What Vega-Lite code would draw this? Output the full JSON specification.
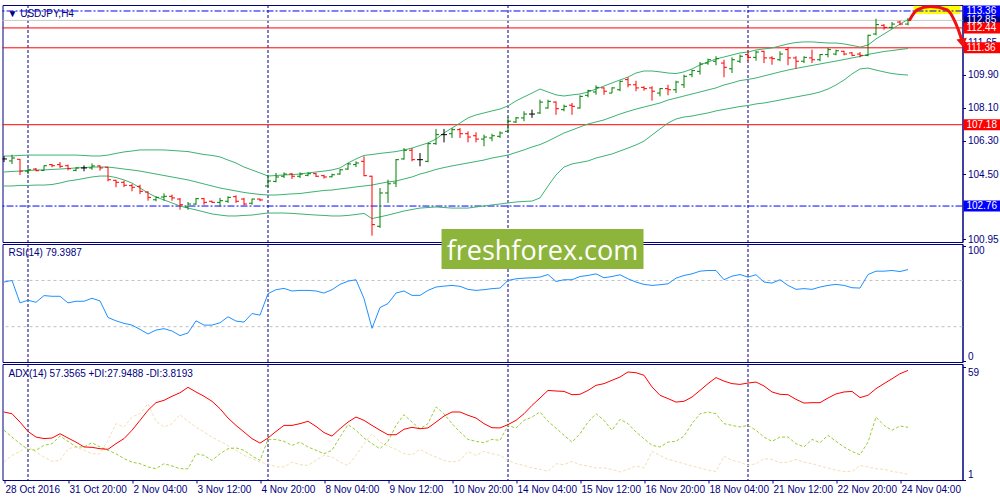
{
"$schema": "https://vega.github.io/schema/vega-lite/v6.json",
"background": "white",
"padding": {"left": 1.5, "top": 0, "right": 0, "bottom": 0},
"spacing": 2,
"bounds": "flush",
"config": {
  "view": {"stroke": "#000080", "strokeWidth": 1},
  "axis": {"grid": false, "domainColor": "#000080", "tickColor": "#000080", "labelColor": "#000080", "labelFont": "Liberation Sans", "labelFontSize": 10},
  "text": {"font": "Liberation Sans"}
},
"datasets": {
  "bars": [
{"i":0,"o":105.32,"h":105.48,"l":105.15,"c":105.32,"bu":105.48,"bm":104.61,"bl":103.85,"rsi":68.6,"adx":35.9,"pdi":26.5,"mdi":10.1},
{"i":1,"o":105.21,"h":105.55,"l":105.04,"c":105.37,"bu":105.48,"bm":104.64,"bl":103.85,"rsi":70.0,"adx":35.0,"pdi":23.0,"mdi":13.6},
{"i":2,"o":105.30,"h":105.32,"l":104.45,"c":104.66,"bu":105.51,"bm":104.66,"bl":103.88,"rsi":50.6,"adx":30.7,"pdi":19.6,"mdi":15.6},
{"i":3,"o":104.66,"h":104.83,"l":104.50,"c":104.73,"bu":105.53,"bm":104.69,"bl":103.88,"rsi":52.9,"adx":25.9,"pdi":16.7,"mdi":17.9},
{"i":4,"o":104.77,"h":104.83,"l":104.65,"c":104.68,"bu":105.53,"bm":104.72,"bl":103.90,"rsi":51.1,"adx":23.0,"pdi":16.2,"mdi":15.3},
{"i":5,"o":104.70,"h":104.97,"l":104.68,"c":104.95,"bu":105.53,"bm":104.72,"bl":103.90,"rsi":56.9,"adx":22.2,"pdi":18.7,"mdi":12.7},
{"i":6,"o":105.01,"h":105.05,"l":104.87,"c":104.95,"bu":105.53,"bm":104.75,"bl":103.93,"rsi":56.3,"adx":22.5,"pdi":19.6,"mdi":10.5},
{"i":7,"o":105.01,"h":105.15,"l":104.83,"c":104.92,"bu":105.53,"bm":104.77,"bl":104.01,"rsi":56.3,"adx":24.7,"pdi":23.5,"mdi":11.0},
{"i":8,"o":104.95,"h":105.01,"l":104.70,"c":104.79,"bu":105.53,"bm":104.80,"bl":104.12,"rsi":50.6,"adx":22.5,"pdi":20.8,"mdi":17.0},
{"i":9,"o":104.70,"h":104.87,"l":104.65,"c":104.83,"bu":105.53,"bm":104.83,"bl":104.18,"rsi":52.0,"adx":20.4,"pdi":17.9,"mdi":17.9},
{"i":10,"o":104.83,"h":104.97,"l":104.65,"c":104.83,"bu":105.51,"bm":104.85,"bl":104.26,"rsi":52.0,"adx":17.9,"pdi":17.9,"mdi":16.2},
{"i":11,"o":104.83,"h":105.08,"l":104.73,"c":104.94,"bu":105.48,"bm":104.88,"bl":104.34,"rsi":54.6,"adx":17.7,"pdi":20.1,"mdi":14.4},
{"i":12,"o":104.94,"h":104.97,"l":104.68,"c":104.83,"bu":105.48,"bm":104.88,"bl":104.39,"rsi":52.3,"adx":17.0,"pdi":17.9,"mdi":14.4},
{"i":13,"o":104.87,"h":104.88,"l":104.10,"c":104.19,"bu":105.53,"bm":104.88,"bl":104.39,"rsi":38.0,"adx":16.7,"pdi":16.2,"mdi":21.3},
{"i":14,"o":104.16,"h":104.19,"l":103.78,"c":104.05,"bu":105.62,"bm":104.83,"bl":104.31,"rsi":35.1,"adx":19.6,"pdi":14.4,"mdi":29.9},
{"i":15,"o":104.05,"h":104.14,"l":103.79,"c":103.89,"bu":105.70,"bm":104.77,"bl":104.18,"rsi":32.9,"adx":22.2,"pdi":11.9,"mdi":28.2},
{"i":16,"o":103.87,"h":103.96,"l":103.56,"c":103.78,"bu":105.75,"bm":104.72,"bl":104.01,"rsi":31.4,"adx":26.5,"pdi":10.1,"mdi":33.3},
{"i":17,"o":103.83,"h":103.92,"l":103.41,"c":103.56,"bu":105.81,"bm":104.66,"bl":103.74,"rsi":27.7,"adx":31.6,"pdi":9.3,"mdi":35.0},
{"i":18,"o":103.52,"h":103.56,"l":103.05,"c":103.23,"bu":105.81,"bm":104.58,"bl":103.47,"rsi":23.7,"adx":36.8,"pdi":7.6,"mdi":40.2},
{"i":19,"o":103.10,"h":103.29,"l":103.02,"c":103.23,"bu":105.81,"bm":104.50,"bl":103.25,"rsi":27.1,"adx":40.7,"pdi":6.7,"mdi":31.1},
{"i":20,"o":103.25,"h":103.45,"l":103.05,"c":103.29,"bu":105.81,"bm":104.42,"bl":103.09,"rsi":28.3,"adx":41.9,"pdi":9.3,"mdi":28.2},
{"i":21,"o":103.29,"h":103.38,"l":103.05,"c":103.20,"bu":105.78,"bm":104.34,"bl":102.93,"rsi":26.3,"adx":44.0,"pdi":8.1,"mdi":29.9},
{"i":22,"o":103.14,"h":103.20,"l":102.56,"c":102.83,"bu":105.75,"bm":104.26,"bl":102.76,"rsi":22.3,"adx":45.8,"pdi":6.7,"mdi":34.5},
{"i":23,"o":102.71,"h":102.98,"l":102.56,"c":102.87,"bu":105.72,"bm":104.18,"bl":102.65,"rsi":24.6,"adx":48.6,"pdi":6.7,"mdi":31.1},
{"i":24,"o":102.87,"h":103.20,"l":102.83,"c":103.16,"bu":105.64,"bm":104.07,"bl":102.55,"rsi":35.1,"adx":46.2,"pdi":14.4,"mdi":28.2},
{"i":25,"o":103.16,"h":103.20,"l":102.83,"c":102.96,"bu":105.56,"bm":103.96,"bl":102.44,"rsi":31.4,"adx":44.0,"pdi":13.6,"mdi":25.6},
{"i":26,"o":103.02,"h":103.05,"l":102.93,"c":102.96,"bu":105.51,"bm":103.85,"bl":102.33,"rsi":31.4,"adx":41.4,"pdi":11.0,"mdi":23.0},
{"i":27,"o":102.96,"h":103.20,"l":102.75,"c":103.05,"bu":105.43,"bm":103.74,"bl":102.27,"rsi":33.4,"adx":37.6,"pdi":14.4,"mdi":20.8},
{"i":28,"o":103.02,"h":103.29,"l":102.93,"c":103.23,"bu":105.26,"bm":103.66,"bl":102.22,"rsi":38.6,"adx":32.8,"pdi":17.0,"mdi":18.7},
{"i":29,"o":103.27,"h":103.34,"l":102.93,"c":103.02,"bu":105.10,"bm":103.58,"bl":102.22,"rsi":34.9,"adx":29.0,"pdi":17.4,"mdi":16.2},
{"i":30,"o":103.14,"h":103.20,"l":102.80,"c":102.87,"bu":104.88,"bm":103.50,"bl":102.25,"rsi":34.0,"adx":25.6,"pdi":16.2,"mdi":13.6},
{"i":31,"o":102.91,"h":103.16,"l":102.83,"c":103.14,"bu":104.72,"bm":103.44,"bl":102.27,"rsi":41.4,"adx":22.2,"pdi":13.2,"mdi":11.9},
{"i":32,"o":103.14,"h":103.16,"l":103.02,"c":103.09,"bu":104.56,"bm":103.39,"bl":102.33,"rsi":40.0,"adx":19.9,"pdi":11.0,"mdi":10.1},
{"i":33,"o":103.85,"h":104.46,"l":103.79,"c":104.12,"bu":104.39,"bm":103.36,"bl":102.38,"rsi":58.6,"adx":22.5,"pdi":21.8,"mdi":9.3},
{"i":34,"o":104.10,"h":104.56,"l":104.05,"c":104.34,"bu":104.42,"bm":103.36,"bl":102.38,"rsi":62.0,"adx":25.9,"pdi":21.8,"mdi":7.6},
{"i":35,"o":104.38,"h":104.59,"l":104.28,"c":104.50,"bu":104.45,"bm":103.39,"bl":102.38,"rsi":63.1,"adx":29.0,"pdi":20.8,"mdi":7.6},
{"i":36,"o":104.50,"h":104.56,"l":104.23,"c":104.38,"bu":104.47,"bm":103.42,"bl":102.36,"rsi":60.9,"adx":29.0,"pdi":18.7,"mdi":10.1},
{"i":37,"o":104.38,"h":104.59,"l":104.28,"c":104.50,"bu":104.50,"bm":103.44,"bl":102.33,"rsi":61.4,"adx":29.9,"pdi":20.4,"mdi":8.8},
{"i":38,"o":104.43,"h":104.59,"l":104.38,"c":104.52,"bu":104.56,"bm":103.50,"bl":102.30,"rsi":61.4,"adx":31.1,"pdi":17.9,"mdi":8.4},
{"i":39,"o":104.52,"h":104.56,"l":104.34,"c":104.38,"bu":104.61,"bm":103.55,"bl":102.27,"rsi":60.9,"adx":28.5,"pdi":16.2,"mdi":11.0},
{"i":40,"o":104.41,"h":104.46,"l":104.25,"c":104.34,"bu":104.66,"bm":103.61,"bl":102.25,"rsi":59.1,"adx":25.3,"pdi":14.4,"mdi":13.6},
{"i":41,"o":104.35,"h":104.52,"l":104.32,"c":104.46,"bu":104.72,"bm":103.63,"bl":102.22,"rsi":62.0,"adx":23.5,"pdi":16.2,"mdi":12.7},
{"i":42,"o":104.50,"h":104.77,"l":104.46,"c":104.73,"bu":104.83,"bm":103.69,"bl":102.22,"rsi":66.6,"adx":27.3,"pdi":23.0,"mdi":10.1},
{"i":43,"o":104.77,"h":105.10,"l":104.73,"c":105.05,"bu":105.10,"bm":103.74,"bl":102.25,"rsi":69.4,"adx":30.7,"pdi":29.4,"mdi":8.4},
{"i":44,"o":105.01,"h":105.19,"l":104.88,"c":105.10,"bu":105.32,"bm":103.80,"bl":102.30,"rsi":70.6,"adx":33.3,"pdi":26.5,"mdi":13.6},
{"i":45,"o":105.19,"h":105.46,"l":104.38,"c":104.41,"bu":105.51,"bm":103.85,"bl":102.36,"rsi":54.3,"adx":31.6,"pdi":22.5,"mdi":19.6},
{"i":46,"o":104.38,"h":104.41,"l":101.15,"c":101.75,"bu":105.56,"bm":103.90,"bl":102.08,"rsi":28.6,"adx":29.0,"pdi":19.6,"mdi":24.7},
{"i":47,"o":101.66,"h":103.74,"l":101.57,"c":103.47,"bu":105.62,"bm":103.99,"bl":102.17,"rsi":46.6,"adx":26.5,"pdi":17.0,"mdi":20.4},
{"i":48,"o":103.47,"h":104.19,"l":102.93,"c":103.97,"bu":105.67,"bm":104.07,"bl":102.27,"rsi":50.0,"adx":24.2,"pdi":20.8,"mdi":18.4},
{"i":49,"o":104.01,"h":105.32,"l":103.79,"c":105.28,"bu":105.72,"bm":104.12,"bl":102.38,"rsi":59.1,"adx":24.2,"pdi":29.0,"mdi":16.7},
{"i":50,"o":105.32,"h":105.91,"l":105.28,"c":105.79,"bu":105.81,"bm":104.23,"bl":102.49,"rsi":60.9,"adx":27.0,"pdi":34.5,"mdi":14.4},
{"i":51,"o":105.79,"h":105.91,"l":105.19,"c":105.28,"bu":105.91,"bm":104.34,"bl":102.57,"rsi":57.1,"adx":28.0,"pdi":30.7,"mdi":13.9},
{"i":52,"o":105.28,"h":105.64,"l":104.92,"c":105.28,"bu":106.05,"bm":104.50,"bl":102.65,"rsi":57.1,"adx":27.3,"pdi":27.3,"mdi":16.7},
{"i":53,"o":105.19,"h":106.19,"l":105.14,"c":106.15,"bu":106.19,"bm":104.61,"bl":102.68,"rsi":61.4,"adx":27.7,"pdi":29.9,"mdi":14.4},
{"i":54,"o":106.15,"h":106.95,"l":106.09,"c":106.64,"bu":106.40,"bm":104.75,"bl":102.71,"rsi":64.3,"adx":30.7,"pdi":38.5,"mdi":12.7},
{"i":55,"o":106.64,"h":106.95,"l":106.22,"c":106.64,"bu":106.73,"bm":104.85,"bl":102.68,"rsi":65.1,"adx":33.8,"pdi":35.0,"mdi":11.0},
{"i":56,"o":106.69,"h":107.00,"l":106.46,"c":106.91,"bu":107.00,"bm":104.94,"bl":102.65,"rsi":65.7,"adx":35.9,"pdi":29.9,"mdi":10.1},
{"i":57,"o":106.91,"h":107.00,"l":106.46,"c":106.69,"bu":107.27,"bm":105.02,"bl":102.65,"rsi":64.9,"adx":35.9,"pdi":25.6,"mdi":11.0},
{"i":58,"o":106.69,"h":106.82,"l":106.22,"c":106.51,"bu":107.55,"bm":105.10,"bl":102.65,"rsi":62.3,"adx":34.2,"pdi":21.8,"mdi":15.6},
{"i":59,"o":106.58,"h":106.77,"l":106.22,"c":106.40,"bu":107.71,"bm":105.18,"bl":102.71,"rsi":61.4,"adx":32.8,"pdi":20.8,"mdi":13.6},
{"i":60,"o":106.40,"h":106.64,"l":106.01,"c":106.51,"bu":107.82,"bm":105.26,"bl":102.76,"rsi":62.0,"adx":29.9,"pdi":20.1,"mdi":15.6},
{"i":61,"o":106.46,"h":106.69,"l":106.28,"c":106.58,"bu":107.93,"bm":105.37,"bl":102.82,"rsi":62.9,"adx":27.8,"pdi":21.8,"mdi":14.4},
{"i":62,"o":106.55,"h":106.82,"l":106.46,"c":106.73,"bu":108.03,"bm":105.45,"bl":102.87,"rsi":63.4,"adx":27.7,"pdi":21.3,"mdi":13.6},
{"i":63,"o":106.82,"h":107.60,"l":106.77,"c":107.37,"bu":108.20,"bm":105.53,"bl":102.93,"rsi":70.0,"adx":29.4,"pdi":29.0,"mdi":11.0},
{"i":64,"o":107.33,"h":107.60,"l":107.27,"c":107.55,"bu":108.47,"bm":105.67,"bl":102.98,"rsi":71.4,"adx":31.6,"pdi":27.6,"mdi":9.3},
{"i":65,"o":107.55,"h":107.91,"l":107.37,"c":107.76,"bu":108.69,"bm":105.81,"bl":103.01,"rsi":72.0,"adx":35.0,"pdi":31.6,"mdi":8.4},
{"i":66,"o":107.76,"h":108.00,"l":107.55,"c":107.76,"bu":108.90,"bm":105.97,"bl":103.03,"rsi":72.3,"adx":39.3,"pdi":33.3,"mdi":7.1},
{"i":67,"o":107.82,"h":108.54,"l":107.76,"c":108.41,"bu":109.12,"bm":106.10,"bl":103.20,"rsi":72.9,"adx":43.1,"pdi":35.9,"mdi":6.4},
{"i":68,"o":108.09,"h":108.54,"l":108.05,"c":108.45,"bu":108.96,"bm":106.29,"bl":103.85,"rsi":75.1,"adx":47.0,"pdi":31.1,"mdi":5.3},
{"i":69,"o":108.41,"h":108.45,"l":107.72,"c":108.05,"bu":108.80,"bm":106.51,"bl":104.45,"rsi":69.1,"adx":46.7,"pdi":27.6,"mdi":9.3},
{"i":70,"o":108.00,"h":108.27,"l":107.91,"c":108.18,"bu":108.74,"bm":106.73,"bl":104.88,"rsi":70.6,"adx":46.5,"pdi":23.9,"mdi":8.8},
{"i":71,"o":108.24,"h":108.36,"l":107.72,"c":108.18,"bu":108.80,"bm":106.89,"bl":105.05,"rsi":70.6,"adx":44.8,"pdi":20.4,"mdi":10.5},
{"i":72,"o":108.09,"h":108.78,"l":108.05,"c":108.72,"bu":108.85,"bm":107.06,"bl":105.13,"rsi":73.4,"adx":45.0,"pdi":24.7,"mdi":8.8},
{"i":73,"o":108.78,"h":109.08,"l":108.67,"c":109.03,"bu":108.96,"bm":107.22,"bl":105.21,"rsi":74.3,"adx":47.0,"pdi":30.7,"mdi":8.1},
{"i":74,"o":108.96,"h":109.32,"l":108.81,"c":109.21,"bu":109.12,"bm":107.33,"bl":105.37,"rsi":75.7,"adx":49.6,"pdi":35.0,"mdi":7.1},
{"i":75,"o":109.18,"h":109.21,"l":108.81,"c":109.00,"bu":109.28,"bm":107.44,"bl":105.48,"rsi":72.3,"adx":50.5,"pdi":31.6,"mdi":7.1},
{"i":76,"o":108.90,"h":109.21,"l":108.90,"c":109.18,"bu":109.45,"bm":107.60,"bl":105.59,"rsi":73.4,"adx":52.2,"pdi":26.5,"mdi":6.4},
{"i":77,"o":109.08,"h":109.57,"l":109.00,"c":109.54,"bu":109.61,"bm":107.76,"bl":105.75,"rsi":74.9,"adx":53.9,"pdi":32.1,"mdi":5.0},
{"i":78,"o":109.63,"h":109.76,"l":109.21,"c":109.35,"bu":109.77,"bm":107.90,"bl":105.91,"rsi":71.4,"adx":56.5,"pdi":29.9,"mdi":6.4},
{"i":79,"o":109.35,"h":109.57,"l":109.00,"c":109.18,"bu":109.99,"bm":108.03,"bl":106.08,"rsi":68.6,"adx":56.1,"pdi":25.6,"mdi":8.1},
{"i":80,"o":109.21,"h":109.27,"l":109.03,"c":109.14,"bu":110.10,"bm":108.14,"bl":106.29,"rsi":66.6,"adx":54.8,"pdi":22.2,"mdi":7.1},
{"i":81,"o":109.18,"h":109.27,"l":108.49,"c":109.00,"bu":110.10,"bm":108.25,"bl":106.62,"rsi":65.7,"adx":48.8,"pdi":18.7,"mdi":15.6},
{"i":82,"o":108.90,"h":109.18,"l":108.72,"c":109.14,"bu":110.05,"bm":108.36,"bl":106.95,"rsi":66.3,"adx":44.5,"pdi":17.9,"mdi":13.6},
{"i":83,"o":109.14,"h":109.35,"l":108.78,"c":109.08,"bu":109.99,"bm":108.52,"bl":107.27,"rsi":67.1,"adx":42.8,"pdi":20.4,"mdi":11.5},
{"i":84,"o":109.08,"h":109.57,"l":108.90,"c":109.50,"bu":109.96,"bm":108.63,"bl":107.49,"rsi":72.0,"adx":41.0,"pdi":20.8,"mdi":10.5},
{"i":85,"o":109.35,"h":109.90,"l":109.18,"c":109.81,"bu":110.05,"bm":108.74,"bl":107.60,"rsi":74.3,"adx":41.4,"pdi":23.5,"mdi":9.3},
{"i":86,"o":109.90,"h":110.17,"l":109.76,"c":110.12,"bu":110.21,"bm":108.85,"bl":107.65,"rsi":75.7,"adx":43.6,"pdi":29.9,"mdi":8.1},
{"i":87,"o":110.08,"h":110.59,"l":109.90,"c":110.48,"bu":110.43,"bm":108.96,"bl":107.74,"rsi":78.0,"adx":47.0,"pdi":35.0,"mdi":7.1},
{"i":88,"o":110.53,"h":110.77,"l":110.44,"c":110.71,"bu":110.59,"bm":109.07,"bl":107.82,"rsi":78.6,"adx":50.5,"pdi":35.9,"mdi":5.9},
{"i":89,"o":110.63,"h":110.90,"l":110.41,"c":110.77,"bu":110.75,"bm":109.18,"bl":107.93,"rsi":78.6,"adx":53.6,"pdi":35.0,"mdi":5.3},
{"i":90,"o":110.53,"h":110.71,"l":109.76,"c":110.30,"bu":110.86,"bm":109.34,"bl":108.01,"rsi":70.6,"adx":51.8,"pdi":29.9,"mdi":13.2},
{"i":91,"o":110.22,"h":110.84,"l":109.99,"c":110.71,"bu":110.97,"bm":109.45,"bl":108.09,"rsi":73.7,"adx":50.5,"pdi":29.0,"mdi":11.0},
{"i":92,"o":110.63,"h":110.99,"l":110.53,"c":110.90,"bu":111.08,"bm":109.58,"bl":108.17,"rsi":75.1,"adx":50.1,"pdi":28.2,"mdi":10.1},
{"i":93,"o":110.99,"h":111.20,"l":110.63,"c":110.84,"bu":111.13,"bm":109.64,"bl":108.22,"rsi":72.9,"adx":50.8,"pdi":29.0,"mdi":8.4},
{"i":94,"o":110.84,"h":111.20,"l":110.66,"c":111.13,"bu":111.24,"bm":109.72,"bl":108.31,"rsi":74.9,"adx":51.3,"pdi":26.5,"mdi":9.3},
{"i":95,"o":111.17,"h":111.20,"l":110.53,"c":110.81,"bu":111.30,"bm":109.83,"bl":108.36,"rsi":68.6,"adx":49.3,"pdi":23.0,"mdi":11.9},
{"i":96,"o":110.81,"h":110.90,"l":110.44,"c":110.77,"bu":111.35,"bm":109.94,"bl":108.44,"rsi":67.7,"adx":46.2,"pdi":20.8,"mdi":11.4},
{"i":97,"o":110.71,"h":111.17,"l":110.63,"c":111.02,"bu":111.46,"bm":110.05,"bl":108.52,"rsi":70.6,"adx":45.0,"pdi":23.0,"mdi":9.8},
{"i":98,"o":111.26,"h":111.39,"l":110.41,"c":110.81,"bu":111.57,"bm":110.15,"bl":108.61,"rsi":65.7,"adx":44.8,"pdi":23.0,"mdi":10.1},
{"i":99,"o":110.81,"h":110.90,"l":110.22,"c":110.63,"bu":111.65,"bm":110.24,"bl":108.69,"rsi":62.3,"adx":42.4,"pdi":19.6,"mdi":11.5},
{"i":100,"o":110.63,"h":110.90,"l":110.53,"c":110.84,"bu":111.68,"bm":110.32,"bl":108.77,"rsi":62.9,"adx":40.5,"pdi":17.9,"mdi":10.1},
{"i":101,"o":110.81,"h":111.26,"l":110.53,"c":110.71,"bu":111.68,"bm":110.40,"bl":108.85,"rsi":62.3,"adx":40.7,"pdi":21.8,"mdi":9.3},
{"i":102,"o":110.71,"h":111.02,"l":110.63,"c":110.99,"bu":111.65,"bm":110.48,"bl":108.96,"rsi":64.3,"adx":40.7,"pdi":20.1,"mdi":8.1},
{"i":103,"o":110.99,"h":111.35,"l":110.84,"c":111.26,"bu":111.62,"bm":110.56,"bl":109.12,"rsi":65.7,"adx":43.1,"pdi":23.9,"mdi":7.1},
{"i":104,"o":111.02,"h":111.26,"l":110.95,"c":111.20,"bu":111.62,"bm":110.64,"bl":109.34,"rsi":66.6,"adx":45.2,"pdi":20.8,"mdi":5.9},
{"i":105,"o":111.17,"h":111.20,"l":110.95,"c":111.02,"bu":111.57,"bm":110.72,"bl":109.61,"rsi":65.7,"adx":46.2,"pdi":17.9,"mdi":5.3},
{"i":106,"o":111.08,"h":111.13,"l":110.90,"c":110.95,"bu":111.49,"bm":110.81,"bl":109.94,"rsi":63.7,"adx":46.5,"pdi":15.6,"mdi":5.3},
{"i":107,"o":111.02,"h":111.13,"l":110.84,"c":110.95,"bu":111.40,"bm":110.89,"bl":110.21,"rsi":63.4,"adx":43.3,"pdi":13.9,"mdi":8.4},
{"i":108,"o":110.95,"h":112.07,"l":110.90,"c":112.04,"bu":111.51,"bm":111.00,"bl":110.26,"rsi":75.1,"adx":44.5,"pdi":20.4,"mdi":7.6},
{"i":109,"o":112.11,"h":112.94,"l":112.04,"c":112.62,"bu":111.84,"bm":111.08,"bl":110.15,"rsi":78.0,"adx":47.9,"pdi":33.3,"mdi":6.7},
{"i":110,"o":112.58,"h":112.65,"l":112.34,"c":112.47,"bu":112.11,"bm":111.16,"bl":110.05,"rsi":78.0,"adx":50.5,"pdi":29.0,"mdi":6.4},
{"i":111,"o":112.47,"h":112.76,"l":112.40,"c":112.65,"bu":112.38,"bm":111.21,"bl":109.96,"rsi":78.6,"adx":53.0,"pdi":26.5,"mdi":5.3},
{"i":112,"o":112.76,"h":112.83,"l":112.58,"c":112.65,"bu":112.65,"bm":111.27,"bl":109.91,"rsi":77.7,"adx":55.6,"pdi":28.7,"mdi":4.7},
{"i":113,"o":112.65,"h":112.98,"l":112.58,"c":112.85,"bu":112.90,"bm":111.32,"bl":109.88,"rsi":79.4,"adx":57.3,"pdi":28.0,"mdi":3.8}
  ],
  "seps": [{"i": 3}, {"i": 33}, {"i": 63}, {"i": 93}],
  "levels": [
    {"p": 112.85, "k": "bid"},
    {"p": 113.36, "k": "blue"},
    {"p": 112.44, "k": "red"},
    {"p": 111.36, "k": "red"},
    {"p": 107.18, "k": "red"},
    {"p": 102.76, "k": "blue"}
  ],
  "rsilev": [{"v": 70}, {"v": 30}],
  "arrow": [
    {"x": 113.22, "p": 112.89},
    {"x": 114.15, "p": 113.42},
    {"x": 115.81, "p": 113.6},
    {"x": 117.9, "p": 113.42},
    {"x": 118.94, "p": 112.71},
    {"x": 119.56, "p": 112.0},
    {"x": 119.75, "p": 111.72}
  ],
  "zone": [{"x0": 113.69, "x1": 119.56, "p0": 113.65, "p1": 113.2}],
  "one": [{}]
},
"vconcat": [
{
  "width": 960, "height": 237,
  "layer": [
    {"data": {"name": "zone"}, "mark": {"type": "rect", "color": "#ffff00"},
     "encoding": {
       "x": {"field": "x0", "type": "quantitative", "scale": {"domain": [-0.1875, 119.8125], "nice": false, "zero": false}, "axis": null},
       "x2": {"field": "x1"},
       "y": {"field": "p0", "type": "quantitative", "scale": {"domain": [100.806, 113.686], "nice": false, "zero": false}, "axis": {"title": null}},
       "y2": {"field": "p1"}}},
    {"data": {"name": "seps"}, "mark": {"type": "rule", "color": "#000080", "strokeDash": [3, 2], "strokeWidth": 1},
     "encoding": {"x": {"field": "i", "type": "quantitative", "scale": {"domain": [-0.1875, 119.8125], "nice": false, "zero": false}, "axis": null}}},
    {"data": {"name": "levels"}, "transform": [{"filter": "datum.k == 'bid'"}], "mark": {"type": "rule", "color": "#c8c8c8", "strokeWidth": 1},
     "encoding": {"y": {"field": "p", "type": "quantitative", "scale": {"domain": [100.806, 113.686], "nice": false, "zero": false}, "axis": {"title": null}}}},
    {"data": {"name": "levels"}, "transform": [{"filter": "datum.k == 'blue'"}], "mark": {"type": "rule", "color": "#0000ff", "strokeWidth": 1, "strokeDash": [7, 2, 2, 2]},
     "encoding": {"y": {"field": "p", "type": "quantitative", "scale": {"domain": [100.806, 113.686], "nice": false, "zero": false}, "axis": {"title": null}}}},
    {"data": {"name": "levels"}, "transform": [{"filter": "datum.k == 'red'"}], "mark": {"type": "rule", "color": "#ff0000", "strokeWidth": 1},
     "encoding": {"y": {"field": "p", "type": "quantitative", "scale": {"domain": [100.806, 113.686], "nice": false, "zero": false}, "axis": {"title": null}}}},
    {"data": {"name": "bars"}, "mark": {"type": "line", "color": "#3cb371", "strokeWidth": 1},
     "encoding": {
       "x": {"field": "i", "type": "quantitative", "scale": {"domain": [-0.1875, 119.8125], "nice": false, "zero": false}, "axis": null},
       "y": {"field": "bu", "type": "quantitative", "scale": {"domain": [100.806, 113.686], "nice": false, "zero": false},
             "axis": {"orient": "right", "title": null, "values": [100.95, 104.5, 106.3, 108.1, 109.9, 111.65], "format": ".2f", "tickSize": 3, "labelPadding": 2, "labelFlush": false, "labelOverlap": false}}}},
    {"data": {"name": "bars"}, "mark": {"type": "line", "color": "#3cb371", "strokeWidth": 1},
     "encoding": {
       "x": {"field": "i", "type": "quantitative", "scale": {"domain": [-0.1875, 119.8125], "nice": false, "zero": false}, "axis": null},
       "y": {"field": "bm", "type": "quantitative", "scale": {"domain": [100.806, 113.686], "nice": false, "zero": false}, "axis": {"title": null}}}},
    {"data": {"name": "bars"}, "mark": {"type": "line", "color": "#3cb371", "strokeWidth": 1},
     "encoding": {
       "x": {"field": "i", "type": "quantitative", "scale": {"domain": [-0.1875, 119.8125], "nice": false, "zero": false}, "axis": null},
       "y": {"field": "bl", "type": "quantitative", "scale": {"domain": [100.806, 113.686], "nice": false, "zero": false}, "axis": {"title": null}}}},
    {"data": {"name": "bars"}, "mark": {"type": "rule", "strokeWidth": 1, "clip": true},
     "encoding": {
       "x": {"field": "i", "type": "quantitative", "scale": {"domain": [-0.1875, 119.8125], "nice": false, "zero": false}, "axis": null},
       "y": {"field": "l", "type": "quantitative", "scale": {"domain": [100.806, 113.686], "nice": false, "zero": false}, "axis": {"title": null}},
       "y2": {"field": "h"},
       "color": {"condition": [{"test": "datum.c > datum.o", "value": "#008000"}, {"test": "datum.c < datum.o", "value": "#ff0000"}], "value": "#000000"}}},
    {"data": {"name": "bars"}, "mark": {"type": "rule", "strokeWidth": 1, "xOffset": -3, "x2Offset": 0, "clip": true},
     "encoding": {
       "x": {"field": "i", "type": "quantitative", "scale": {"domain": [-0.1875, 119.8125], "nice": false, "zero": false}, "axis": null},
       "x2": {"field": "i"},
       "y": {"field": "o", "type": "quantitative", "scale": {"domain": [100.806, 113.686], "nice": false, "zero": false}, "axis": {"title": null}},
       "color": {"condition": [{"test": "datum.c > datum.o", "value": "#008000"}, {"test": "datum.c < datum.o", "value": "#ff0000"}], "value": "#000000"}}},
    {"data": {"name": "bars"}, "mark": {"type": "rule", "strokeWidth": 1, "xOffset": 0, "x2Offset": 3, "clip": true},
     "encoding": {
       "x": {"field": "i", "type": "quantitative", "scale": {"domain": [-0.1875, 119.8125], "nice": false, "zero": false}, "axis": null},
       "x2": {"field": "i"},
       "y": {"field": "c", "type": "quantitative", "scale": {"domain": [100.806, 113.686], "nice": false, "zero": false}, "axis": {"title": null}},
       "color": {"condition": [{"test": "datum.c > datum.o", "value": "#008000"}, {"test": "datum.c < datum.o", "value": "#ff0000"}], "value": "#000000"}}},
    {"data": {"name": "one"}, "mark": {"type": "text", "text": "▼  USDJPY,H4", "align": "left", "baseline": "middle", "fontSize": 10, "color": "#000080"},
     "encoding": {
       "x": {"datum": 0.44, "type": "quantitative", "scale": {"domain": [-0.1875, 119.8125], "nice": false, "zero": false}, "axis": null},
       "y": {"datum": 113.2, "type": "quantitative", "scale": {"domain": [100.806, 113.686], "nice": false, "zero": false}, "axis": {"title": null}}}},
    {"data": {"name": "levels"}, "mark": {"type": "rect", "yOffset": -5.5, "y2Offset": 5.5},
     "encoding": {
       "x": {"datum": 119.94, "type": "quantitative", "scale": {"domain": [-0.1875, 119.8125], "nice": false, "zero": false}, "axis": null},
       "x2": {"datum": 125},
       "y": {"field": "p", "type": "quantitative", "scale": {"domain": [100.806, 113.686], "nice": false, "zero": false}, "axis": {"title": null}},
       "y2": {"field": "p"},
       "color": {"condition": [{"test": "datum.k == 'bid'", "value": "#000080"}, {"test": "datum.k == 'red'", "value": "#ff0000"}], "value": "#0000ff"}}},
    {"data": {"name": "levels"}, "mark": {"type": "text", "align": "left", "baseline": "middle", "fontSize": 10, "color": "#ffffff"},
     "encoding": {
       "x": {"datum": 120.3, "type": "quantitative", "scale": {"domain": [-0.1875, 119.8125], "nice": false, "zero": false}, "axis": null},
       "y": {"field": "p", "type": "quantitative", "scale": {"domain": [100.806, 113.686], "nice": false, "zero": false}, "axis": {"title": null}},
       "text": {"field": "p", "type": "quantitative", "format": ".2f"}}},
    {"data": {"name": "arrow"}, "mark": {"type": "line", "color": "#ee1111", "strokeWidth": 3, "interpolate": "monotone", "strokeCap": "round"},
     "encoding": {
       "x": {"field": "x", "type": "quantitative", "scale": {"domain": [-0.1875, 119.8125], "nice": false, "zero": false}, "axis": null},
       "y": {"field": "p", "type": "quantitative", "scale": {"domain": [100.806, 113.686], "nice": false, "zero": false}, "axis": {"title": null}}}},
    {"data": {"name": "one"}, "mark": {"type": "point", "shape": "triangle-down", "filled": true, "color": "#ee1111", "size": 110, "opacity": 1, "angle": -10},
     "encoding": {
       "x": {"datum": 119.8, "type": "quantitative", "scale": {"domain": [-0.1875, 119.8125], "nice": false, "zero": false}, "axis": null},
       "y": {"datum": 111.62, "type": "quantitative", "scale": {"domain": [100.806, 113.686], "nice": false, "zero": false}, "axis": {"title": null}}}}
  ]
},
{
  "width": 960, "height": 118,
  "layer": [
    {"data": {"name": "seps"}, "mark": {"type": "rule", "color": "#000080", "strokeDash": [3, 2], "strokeWidth": 1},
     "encoding": {"x": {"field": "i", "type": "quantitative", "scale": {"domain": [-0.1875, 119.8125], "nice": false, "zero": false}, "axis": null}}},
    {"data": {"name": "rsilev"}, "mark": {"type": "rule", "color": "#c0c0c0", "strokeDash": [3, 3], "strokeWidth": 1},
     "encoding": {"y": {"field": "v", "type": "quantitative", "scale": {"domain": [-0.5, 101.5], "nice": false, "zero": false}, "axis": {"title": null}}}},
    {"data": {"name": "bars"}, "mark": {"type": "line", "color": "#1e90ff", "strokeWidth": 1},
     "encoding": {
       "x": {"field": "i", "type": "quantitative", "scale": {"domain": [-0.1875, 119.8125], "nice": false, "zero": false}, "axis": null},
       "y": {"field": "rsi", "type": "quantitative", "scale": {"domain": [-0.5, 101.5], "nice": false, "zero": false},
             "axis": {"orient": "right", "title": null, "values": [0, 30, 70, 100], "tickSize": 3, "labelPadding": 2, "labelFlush": 3, "labelOverlap": false}}}},
    {"data": {"name": "one"}, "mark": {"type": "text", "text": "RSI(14) 79.3987", "align": "left", "baseline": "middle", "fontSize": 10, "color": "#000080"},
     "encoding": {
       "x": {"datum": 0.56, "type": "quantitative", "scale": {"domain": [-0.1875, 119.8125], "nice": false, "zero": false}, "axis": null},
       "y": {"datum": 93.7, "type": "quantitative", "scale": {"domain": [-0.5, 101.5], "nice": false, "zero": false}, "axis": {"title": null}}}},
    {"data": {"name": "one"}, "mark": {"type": "rect", "color": "#8db53c"},
     "encoding": {
       "x": {"datum": 54.69, "type": "quantitative", "scale": {"domain": [-0.1875, 119.8125], "nice": false, "zero": false}, "axis": null},
       "x2": {"datum": 79.94},
       "y": {"datum": 114.5, "type": "quantitative", "scale": {"domain": [-0.5, 101.5], "nice": false, "zero": false}, "axis": {"title": null}},
       "y2": {"datum": 79.9}}},
    {"data": {"name": "one"}, "mark": {"type": "text", "text": "freshforex.com", "align": "center", "baseline": "alphabetic", "font": "Open Sans", "fontSize": 27, "color": "#ffffff"},
     "encoding": {
       "x": {"datum": 67.31, "type": "quantitative", "scale": {"domain": [-0.1875, 119.8125], "nice": false, "zero": false}, "axis": null},
       "y": {"datum": 87.7, "type": "quantitative", "scale": {"domain": [-0.5, 101.5], "nice": false, "zero": false}, "axis": {"title": null}}}}
  ]
},
{
  "width": 960, "height": 116,
  "layer": [
    {"data": {"name": "seps"}, "mark": {"type": "rule", "color": "#000080", "strokeDash": [3, 2], "strokeWidth": 1},
     "encoding": {"x": {"field": "i", "type": "quantitative", "scale": {"domain": [-0.1875, 119.8125], "nice": false, "zero": false},
       "axis": {"orient": "bottom", "title": null, "values": [0, 8, 16, 24, 32, 40, 48, 56, 64, 72, 80, 88, 96, 104, 112],
         "labelExpr": "['28 Oct 2016','31 Oct 20:00','2 Nov 04:00','3 Nov 12:00','4 Nov 20:00','8 Nov 04:00','9 Nov 12:00','10 Nov 20:00','14 Nov 04:00','15 Nov 12:00','16 Nov 20:00','18 Nov 04:00','21 Nov 12:00','22 Nov 20:00','24 Nov 04:00'][round(datum.value/8)]",
         "labelAlign": "left", "labelOffset": 1, "tickSize": 3, "labelPadding": 1, "labelFlush": false, "labelOverlap": false, "labelBound": false}}}},
    {"data": {"name": "bars"}, "mark": {"type": "line", "color": "#f5deb3", "strokeWidth": 1, "strokeDash": [3, 2]},
     "encoding": {
       "x": {"field": "i", "type": "quantitative", "scale": {"domain": [-0.1875, 119.8125], "nice": false, "zero": false}, "axis": {"title": null}},
       "y": {"field": "mdi", "type": "quantitative", "scale": {"domain": [0.9, 60.6], "nice": false, "zero": false}, "axis": {"title": null}}}},
    {"data": {"name": "bars"}, "mark": {"type": "line", "color": "#9acd32", "strokeWidth": 1, "strokeDash": [3, 2]},
     "encoding": {
       "x": {"field": "i", "type": "quantitative", "scale": {"domain": [-0.1875, 119.8125], "nice": false, "zero": false}, "axis": {"title": null}},
       "y": {"field": "pdi", "type": "quantitative", "scale": {"domain": [0.9, 60.6], "nice": false, "zero": false}, "axis": {"title": null}}}},
    {"data": {"name": "bars"}, "mark": {"type": "line", "color": "#ff0000", "strokeWidth": 1},
     "encoding": {
       "x": {"field": "i", "type": "quantitative", "scale": {"domain": [-0.1875, 119.8125], "nice": false, "zero": false}, "axis": {"title": null}},
       "y": {"field": "adx", "type": "quantitative", "scale": {"domain": [0.9, 60.6], "nice": false, "zero": false},
             "axis": {"orient": "right", "title": null, "values": [1, 59], "tickSize": 3, "labelPadding": 2, "labelFlush": 5, "labelOverlap": false}}}},
    {"data": {"name": "one"}, "mark": {"type": "text", "text": "ADX(14) 57.3565 +DI:27.9488 -DI:3.8193", "align": "left", "baseline": "middle", "fontSize": 10, "color": "#000080"},
     "encoding": {
       "x": {"datum": 0.56, "type": "quantitative", "scale": {"domain": [-0.1875, 119.8125], "nice": false, "zero": false}, "axis": {"title": null}},
       "y": {"datum": 55.5, "type": "quantitative", "scale": {"domain": [0.9, 60.6], "nice": false, "zero": false}, "axis": {"title": null}}}}
  ]
}
]
}
